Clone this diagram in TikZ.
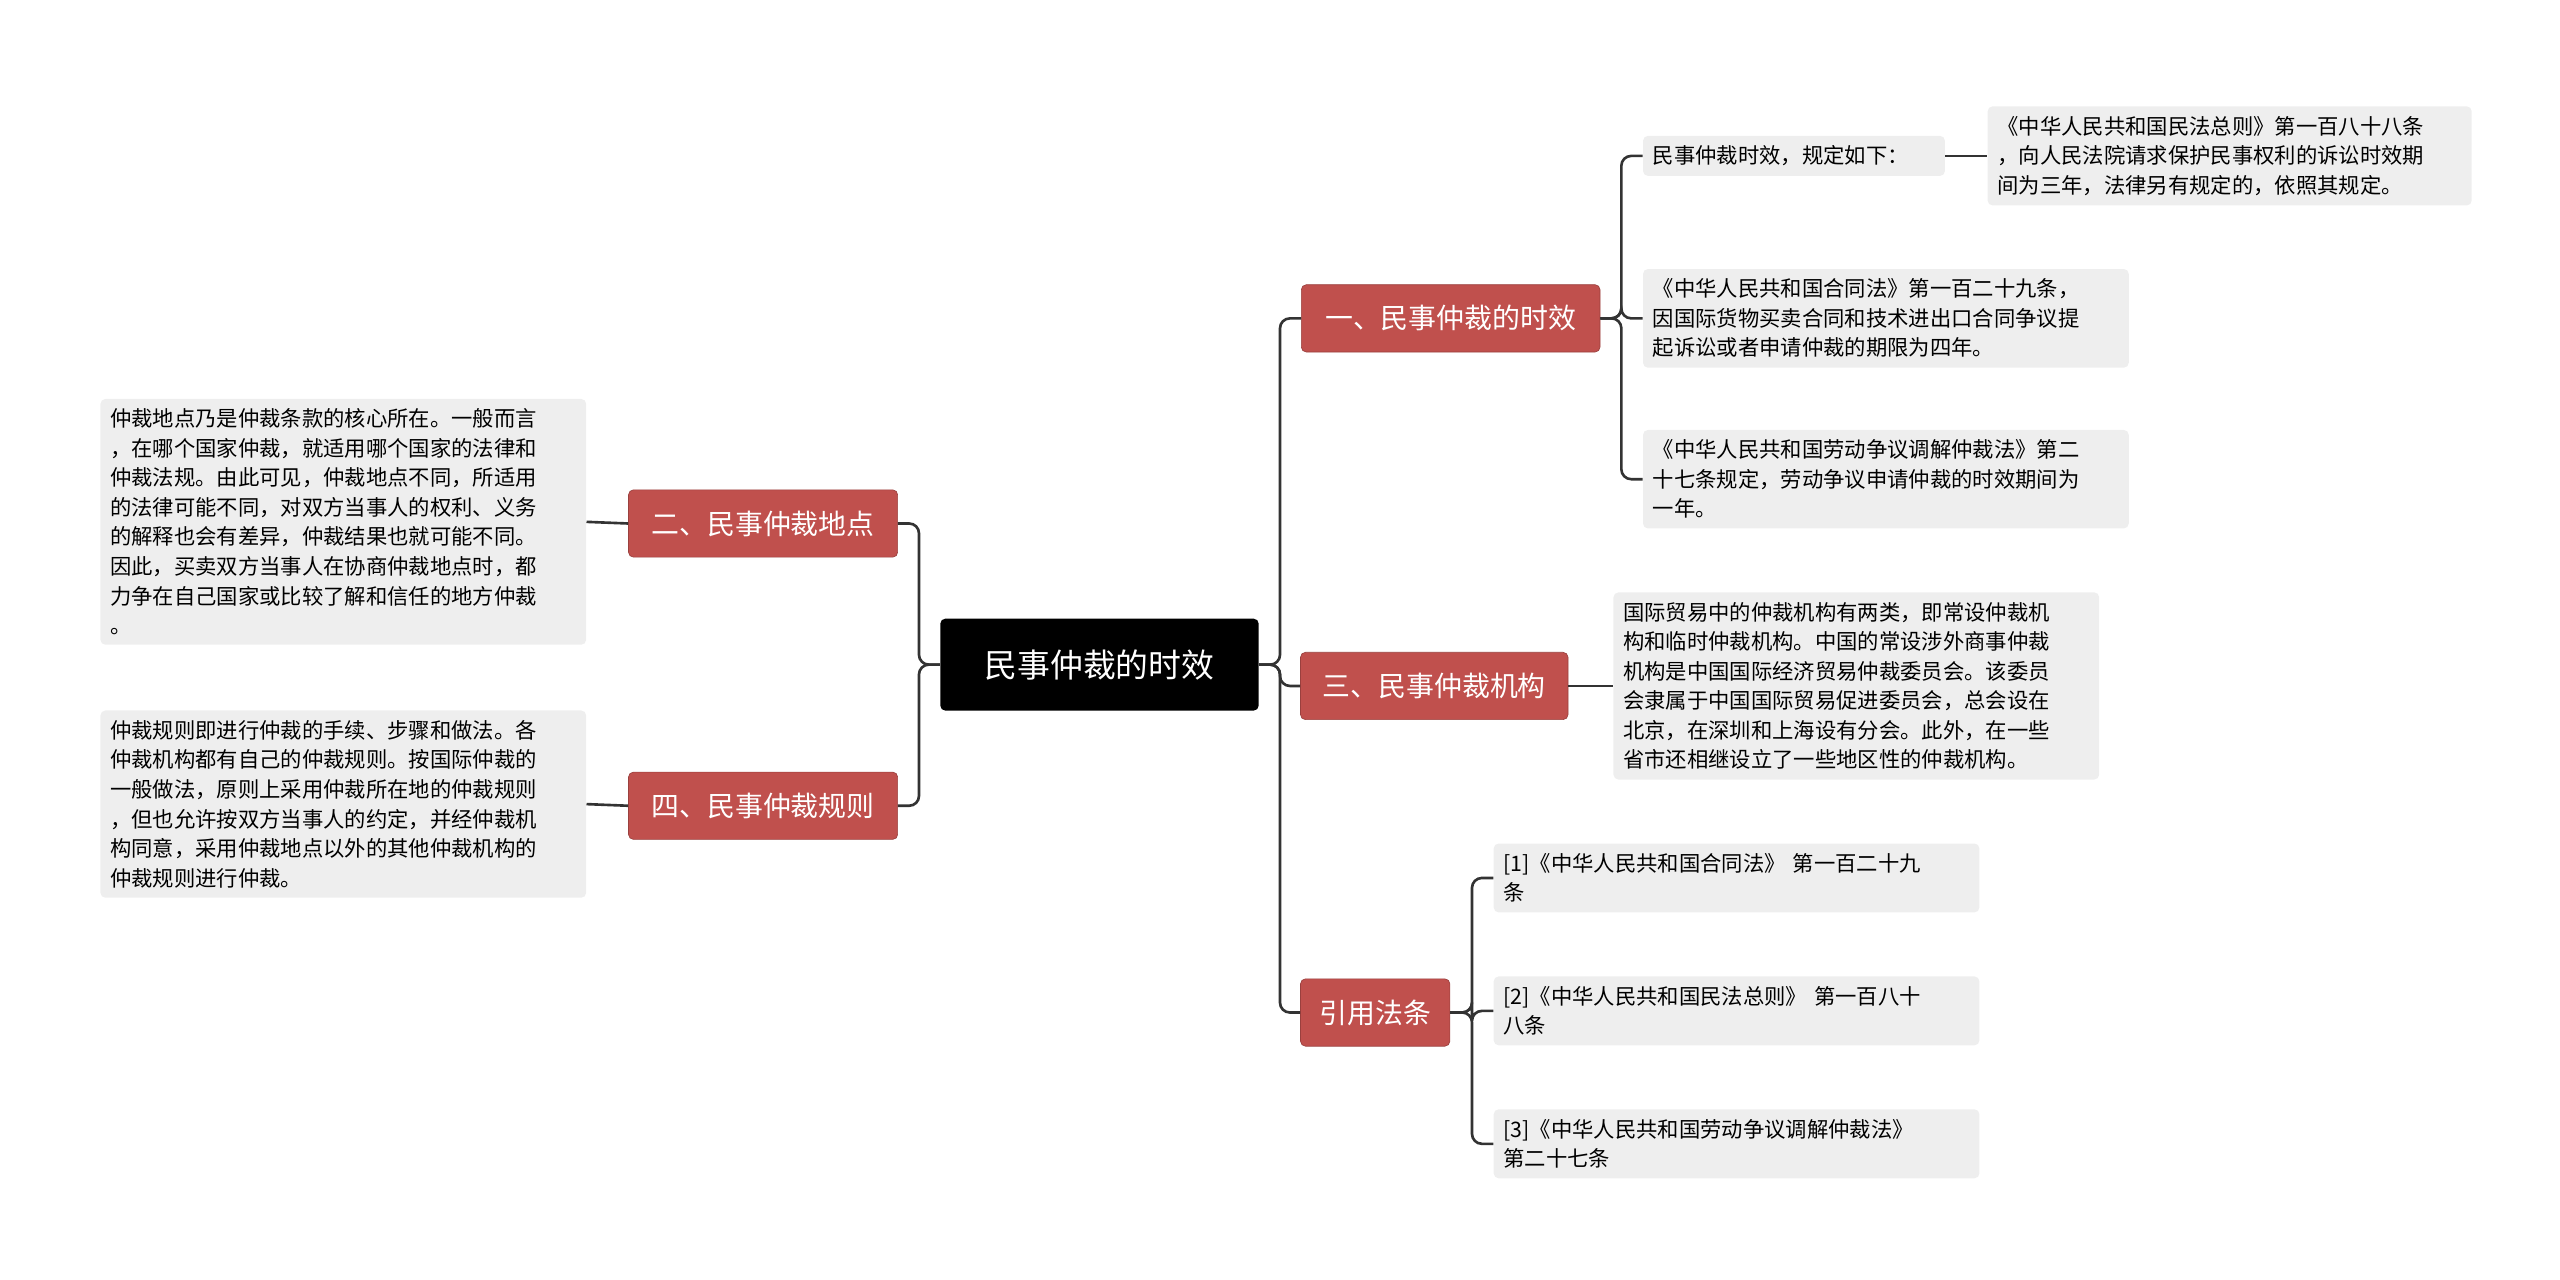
\documentclass[tikz,border=0pt]{standalone}
\usepackage{fontspec}
\newfontfamily\cjk{Noto Sans CJK SC}
\begin{document}
\begin{tikzpicture}[x=1pt,y=-1pt,
 line/.style={draw=black!80,line width=1.6pt,rounded corners=6pt},
 root/.style={fill=black,text=white,rounded corners=3pt,minimum width=194pt,minimum height=56pt,font=\cjk\fontsize{20}{24}\selectfont},
 br/.style={fill=BrRed,draw=BrRed!80!black,text=white,rounded corners=3pt,minimum height=41pt,inner xsep=8pt,font=\cjk\fontsize{17}{20}\selectfont},
 leaf/.style={fill=LeafGray,rounded corners=3pt,inner xsep=6pt,inner ysep=6pt,align=left,anchor=west,font=\cjk\fontsize{13}{18}\selectfont}]
\definecolor{BrRed}{HTML}{C0504D}
\definecolor{LeafGray}{HTML}{EEEEEE}
\useasboundingbox (0,0) rectangle (1560,779.4);
\node[root] (r) at (670,405) {民事仲裁的时效};
\node[br,minimum width=182pt] (b1) at (884,194) {一、民事仲裁的时效};
\node[br,minimum width=163pt] (b3) at (874,418) {三、民事仲裁机构};
\node[br,minimum width=91pt] (b5) at (838,617) {引用法条};
\node[br,minimum width=164pt] (b2) at (465,319) {二、民事仲裁地点};
\node[br,minimum width=164pt] (b4) at (465,491) {四、民事仲裁规则};
\node[leaf,text width=172pt] (l1a) at (1001,95) {民事仲裁时效，规定如下：};
\node[leaf,text width=283pt] (l1aa) at (1211,95) {《中华人民共和国民法总则》第一百八十八条\\，向人民法院请求保护民事权利的诉讼时效期\\间为三年，法律另有规定的，依照其规定。};
\node[leaf,text width=284pt] (l1b) at (1001,194) {《中华人民共和国合同法》第一百二十九条，\\因国际货物买卖合同和技术进出口合同争议提\\起诉讼或者申请仲裁的期限为四年。};
\node[leaf,text width=284pt] (l1c) at (1001,292) {《中华人民共和国劳动争议调解仲裁法》第二\\十七条规定，劳动争议申请仲裁的时效期间为\\一年。};
\node[leaf,text width=284pt] (l3) at (983,418) {国际贸易中的仲裁机构有两类，即常设仲裁机\\构和临时仲裁机构。中国的常设涉外商事仲裁\\机构是中国国际经济贸易仲裁委员会。该委员\\会隶属于中国国际贸易促进委员会，总会设在\\北京，在深圳和上海设有分会。此外，在一些\\省市还相继设立了一些地区性的仲裁机构。};
\node[leaf,text width=284pt] (r1) at (910,535) {[1]《中华人民共和国合同法》 第一百二十九\\条};
\node[leaf,text width=284pt] (r2) at (910,616) {[2]《中华人民共和国民法总则》 第一百八十\\八条};
\node[leaf,text width=284pt] (r3) at (910,697) {[3]《中华人民共和国劳动争议调解仲裁法》\\第二十七条};
\node[leaf,text width=284pt] (l2) at (61,318) {仲裁地点乃是仲裁条款的核心所在。一般而言\\，在哪个国家仲裁，就适用哪个国家的法律和\\仲裁法规。由此可见，仲裁地点不同，所适用\\的法律可能不同，对双方当事人的权利、义务\\的解释也会有差异，仲裁结果也就可能不同。\\因此，买卖双方当事人在协商仲裁地点时，都\\力争在自己国家或比较了解和信任的地方仲裁\\。};
\node[leaf,text width=284pt] (l4) at (61,490) {仲裁规则即进行仲裁的手续、步骤和做法。各\\仲裁机构都有自己的仲裁规则。按国际仲裁的\\一般做法，原则上采用仲裁所在地的仲裁规则\\，但也允许按双方当事人的约定，并经仲裁机\\构同意，采用仲裁地点以外的其他仲裁机构的\\仲裁规则进行仲裁。};
\coordinate (t1) at (780,405);
\foreach \b in {b1,b3,b5}{\draw[line] (r.east) -- (t1) |- (\b.west);}
\coordinate (t2) at (560,405);
\foreach \b in {b2,b4}{\draw[line] (r.west) -- (t2) |- (\b.east);}
\coordinate (t3) at (988,194);
\foreach \b in {l1a,l1b,l1c}{\draw[line] (b1.east) -- (t3) |- (\b.west);}
\draw[line] (l1a.east) -- (l1aa.west);
\draw[line] (b3.east) -- (l3.west);
\coordinate (t4) at (897,617);
\foreach \b in {r1,r2,r3}{\draw[line] (b5.east) -- (t4) |- (\b.west);}
\draw[line] (b2.west) -- (l2.east);
\draw[line] (b4.west) -- (l4.east);
\end{tikzpicture}
\end{document}
